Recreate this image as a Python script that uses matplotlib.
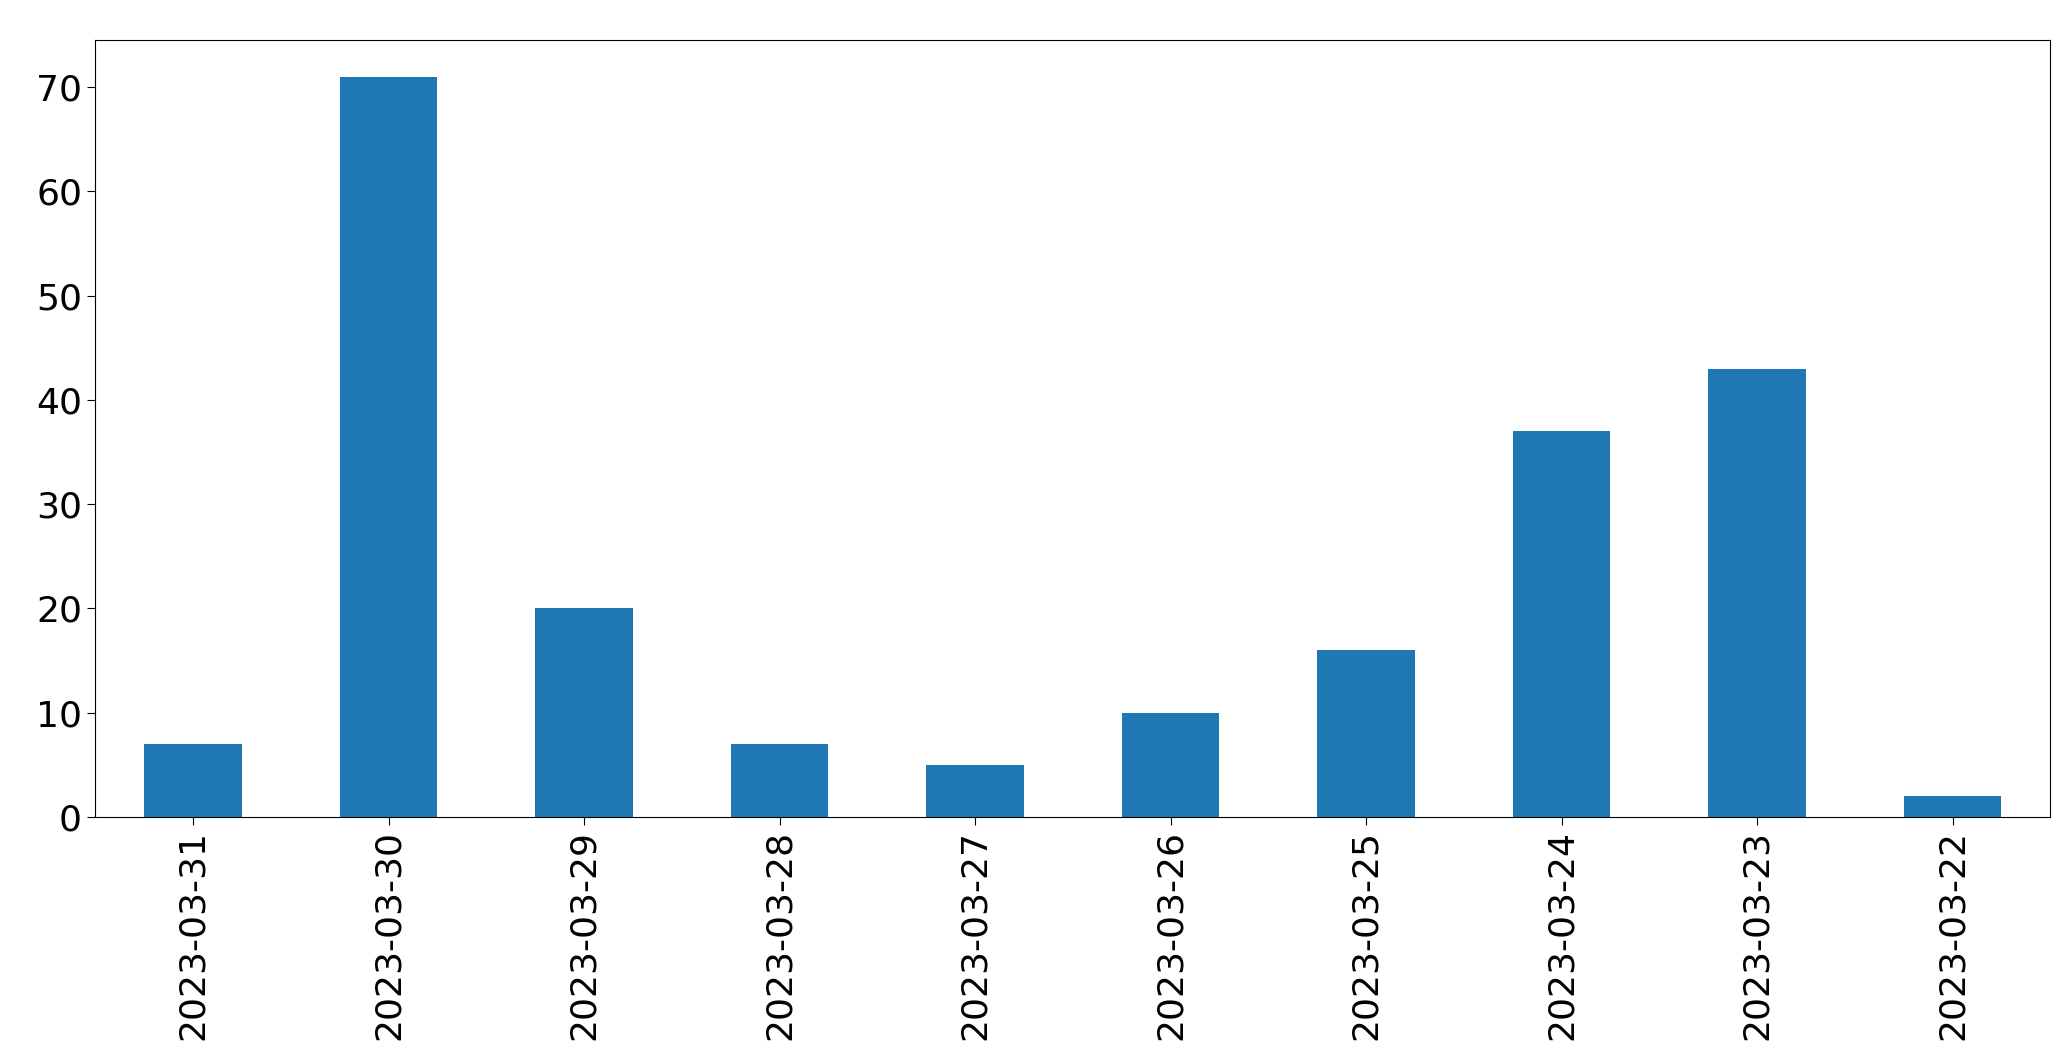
import matplotlib
matplotlib.use("Agg")
import matplotlib.pyplot as plt

dates = ["2023-03-31", "2023-03-30", "2023-03-29", "2023-03-28", "2023-03-27",
         "2023-03-26", "2023-03-25", "2023-03-24", "2023-03-23", "2023-03-22"]
counts = [7, 71, 20, 7, 5, 10, 16, 37, 43, 2]

fig = plt.figure(figsize=(20.71, 10.61), dpi=100)
ax = fig.add_axes([0.046, 0.230, 0.944, 0.732])

x = range(len(dates))
ax.bar(x, counts, width=0.5, color="#1f77b4")
ax.set_xlim(-0.5, len(dates) - 0.5)
ax.set_ylim(0, 74.5)
ax.set_xticks(list(x))
ax.set_xticklabels(dates, rotation=90)
ax.tick_params(labelsize=26, length=6)

fig.savefig("out.png", dpi=100)
